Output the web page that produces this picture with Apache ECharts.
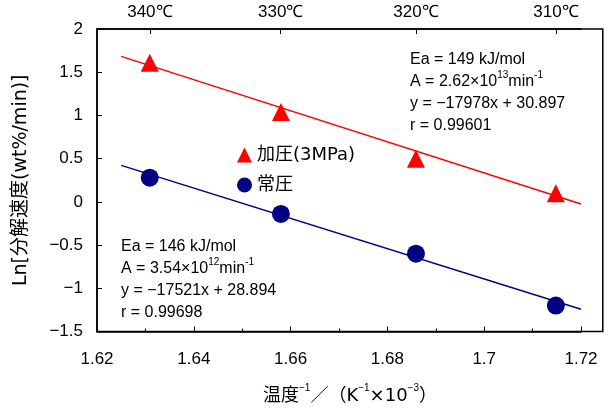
<!DOCTYPE html>
<html><head><meta charset="utf-8">
<script src="https://cdn.jsdelivr.net/npm/echarts@6/dist/echarts.min.js"></script>
<style>html,body{margin:0;padding:0;background:#fff}#c{width:609px;height:410px}</style>
</head><body><div id="c"></div>
<script>
// ---- data ----
const invT = [1.6309, 1.6580, 1.6859, 1.7148];           // 1/T ×10^3 (K^-1)
const pressurized = [1.61, 1.04, 0.50, 0.10];            // 加圧(3MPa)
const atmospheric = [0.28, -0.14, -0.60, -1.20];         // 常圧
const fitX = [1.625, 1.72];
const fitPressurized = [1.683, -0.025];
const fitAtmospheric = [0.422, -1.242];
const tempC = [340, 330, 320, 310];
const tempLabels = ['340℃', '330℃', '320℃', '310℃'];
const seriesNames = ['加圧(3MPa)', '常圧'];
const xMin = 1.62, xMax = 1.72, xFrameMax = 1.7245;
const yMin = -1.5, yMax = 2;

const tempPos = tempC.map(t => 1000 / (t + 273.15));
const LAT = 'Liberation Sans, Arial, sans-serif';
const WIDE = '"DejaVu Sans", "Noto Sans CJK JP", sans-serif';
const black = '#000';

const chart = echarts.init(document.getElementById('c'), null, {renderer: 'canvas'});

const supRich = {
  n: {fontSize: 16, fontFamily: LAT, lineHeight: 20, verticalAlign: 'bottom', fill: black},
  s: {fontSize: 10, fontFamily: LAT, lineHeight: 12, verticalAlign: 'top', fill: black}
};
function line(x, y, text) {
  return {type: 'text', x: x, y: y, z: 100,
    style: {text: text, rich: supRich, font: '16px ' + LAT, fill: black, verticalAlign: 'middle', align: 'left'}};
}
const ann = [
  line(410, 58, '{n|Ea = 149 kJ/mol}'),
  line(410, 80, '{n|A = 2.62×10}{s|13}{n|min}{s|-1}'),
  line(410, 102, '{n|y = −17978x + 30.897}'),
  line(410, 124, '{n|r = 0.99601}'),
  line(121, 245, '{n|Ea = 146 kJ/mol}'),
  line(121, 267, '{n|A = 3.54×10}{s|12}{n|min}{s|-1}'),
  line(121, 289, '{n|y = −17521x + 28.894}'),
  line(121, 311, '{n|r = 0.99698}'),
  {type: 'text', x: 350, y: 394, z: 100,
    style: {text: '{c|温度}{s|−1}{c|／（K}{s|−1}{c|×10}{s|−3}{c|）}', align: 'center', verticalAlign: 'middle', rich: {
      c: {fontSize: 18, fontFamily: WIDE, lineHeight: 22, verticalAlign: 'bottom', fill: black},
      s: {fontSize: 10, fontFamily: LAT, lineHeight: 12, verticalAlign: 'top', fill: black}
    }}}
];

chart.setOption({
  animation: false,
  backgroundColor: '#fff',
  grid: {left: 97, right: 28, top: 29, bottom: 78.5, containLabel: false},
  legend: {
    data: seriesNames, orient: 'vertical', left: 232, top: 141, itemGap: 12,
    itemWidth: 15, itemHeight: 15,
    textStyle: {fontSize: 18, fontFamily: WIDE, color: black}
  },
  xAxis: [
    {type: 'value', position: 'bottom', min: xMin, max: xMax, interval: 0.02,
      axisLine: {show: true, onZero: false, lineStyle: {color: black, width: 1.5}},
      axisTick: {show: true, inside: true, length: 5, lineStyle: {color: black}},
      minorTick: {show: true, splitNumber: 2, length: 3, lineStyle: {color: black}},
      axisLabel: {margin: 19, fontSize: 17, fontFamily: LAT, color: black,
        formatter: v => String(+(+v).toFixed(2))},
      splitLine: {show: false}},
    {type: 'value', position: 'top', min: xMin, max: xMax,
      axisLine: {show: true, onZero: false, lineStyle: {color: black, width: 1.5}},
      axisTick: {show: true, inside: true, length: 5, customValues: tempPos, lineStyle: {color: black}},
      axisLabel: {customValues: tempPos, margin: 8, fontSize: 17, fontFamily: LAT, color: black,
        formatter: v => {
          let best = 0;
          tempPos.forEach((p, i) => { if (Math.abs(p - v) < Math.abs(tempPos[best] - v)) best = i; });
          return tempLabels[best];
        }},
      splitLine: {show: false}}
  ],
  yAxis: [
    {type: 'value', min: yMin, max: yMax, interval: 0.5, position: 'left',
      name: 'Ln[分解速度(wt%/min)]', nameLocation: 'middle', nameGap: 66,
      nameTextStyle: {fontSize: 19, fontFamily: WIDE, color: black},
      axisLine: {show: true, onZero: false, lineStyle: {color: black, width: 1.5}},
      axisTick: {show: true, inside: true, length: 5, lineStyle: {color: black}},
      axisLabel: {margin: 14, fontSize: 17, fontFamily: LAT, color: black,
        formatter: v => String(v).replace('-', '−')},
      splitLine: {show: false}}
  ],
  series: [
    {type: 'line', name: 'fit1', data: fitX.map((x, i) => [x, fitPressurized[i]]),
      showSymbol: false, symbol: 'none', lineStyle: {color: '#FF0000', width: 1.5}, z: 2, silent: true},
    {type: 'line', name: 'fit2', data: fitX.map((x, i) => [x, fitAtmospheric[i]]),
      showSymbol: false, symbol: 'none', lineStyle: {color: '#000080', width: 1.5}, z: 2, silent: true},
    {type: 'scatter', name: seriesNames[0], symbol: 'triangle', symbolSize: [18, 18],
      itemStyle: {color: '#FF0000', opacity: 1}, data: invT.map((x, i) => [x, pressurized[i]]), z: 3},
    {type: 'scatter', name: seriesNames[1], symbol: 'circle', symbolSize: 18,
      itemStyle: {color: '#000080', opacity: 1}, data: invT.map((x, i) => [x, atmospheric[i]]), z: 3}
  ],
  graphic: ann
});

// plot frame extends slightly beyond the last x tick
const p0 = chart.convertToPixel({xAxisIndex: 0, yAxisIndex: 0}, [xMin, yMax]);
const p1 = chart.convertToPixel({xAxisIndex: 0, yAxisIndex: 0}, [xFrameMax, yMin]);
chart.setOption({graphic: ann.concat([{type: 'rect', z: 50, silent: true,
  shape: {x: p0[0], y: p0[1], width: p1[0] - p0[0], height: p1[1] - p0[1]},
  style: {fill: 'none', stroke: black, lineWidth: 1.5}}])});
</script></body></html>
